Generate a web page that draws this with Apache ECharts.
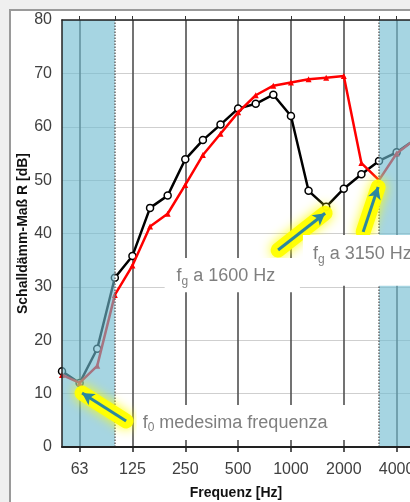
<!DOCTYPE html>
<html><head><meta charset="utf-8">
<script src="https://cdn.jsdelivr.net/npm/echarts@6/dist/echarts.min.js"></script>
<style>html,body{margin:0;padding:0;background:#efefef}#c{width:410px;height:502px}</style>
</head><body><div id="c"></div>
<script>
// third-octave bands (index 0 = 50 Hz)
const bands = ['50','63','80','100','125','160','200','250','315','400','500','630','800','1000','1250','1600','2000','2500','3150','4000','5000'];
const measured  = [14.2, 12.0, 18.4, 31.7, 35.8, 44.8, 47.1, 53.9, 57.5, 60.4, 63.4, 64.3, 66.0, 62.0, 48.0, 45.0, 48.4, 51.1, 53.6, 55.2, 57.5];
const reference = [13.5, 12.0, 15.2, 28.5, 34.0, 41.3, 43.7, 49.1, 54.7, 58.7, 62.7, 65.9, 67.7, 68.3, 68.9, 69.2, 69.5, 53.2, 50.0, 55.0, 57.5];
const octaveTicks = [1, 4, 7, 10, 13, 16, 19];     // 63 ... 4000 Hz
const topTicks = [1, 3, 4, 7, 10, 13, 16, 18, 19];
const yTicks = [10, 20, 30, 40, 50, 60, 70, 80];
const xMax = 19.76;
const blueBands = [[0, 3], [18, xMax]];
const edgeLines = [3, 18];
// arrows: [tail, head] in (band index, dB)
const arrows = [
  [[3.64, 4.87], [1.14, 10.1]],
  [[12.27, 36.9], [14.94, 43.8]],
  [[17.1, 40.3], [17.95, 48.7]]
];
// annotation boxes: subscript, rest of text, box corners, text anchor (band index, dB)
const notes = [
  {sub: '0', rest: ' medesima frequenza', box: [[4.24, 7.87], [16.35, 1.31]], at: [4.58, 4.50]},
  {sub: 'g', rest: ' a 1600 Hz', box: [[5.83, 35.4], [13.51, 29.0]], at: [6.50, 32.0]},
  {sub: 'g', rest: ' a 3150 Hz', box: [[13.68, 39.7], [20.5, 30.2]], at: [14.25, 36.1]}
];

const FONT = '"Liberation Sans", Arial, sans-serif';
const chart = echarts.init(document.getElementById('c'));

const gridLines = yTicks.map(v => ({yAxis: v, lineStyle: {color: '#cfcfcf', width: 1, type: 'solid'}}))
  .concat(octaveTicks.map(v => ({xAxis: v, lineStyle: {color: '#505050', width: 1.6, type: 'solid'}})));

const option = {
  backgroundColor: '#efefef',
  animation: false,
  textStyle: {fontFamily: FONT},
  grid: {left: 62, top: 20, right: 0, bottom: 55, containLabel: false, outerBoundsMode: 'none'},
  xAxis: [{
    type: 'value', min: 0, max: xMax, position: 'bottom', z: 15,
    axisLine: {show: true, onZero: false, lineStyle: {color: '#222', width: 2}},
    axisTick: {show: true, customValues: octaveTicks, length: 5, lineStyle: {color: '#222', width: 1.5}},
    axisLabel: {customValues: octaveTicks, formatter: v => bands[Math.round(v)], fontSize: 16, color: '#404040', margin: 15, fontFamily: FONT, hideOverlap: false},
    splitLine: {show: false},
    name: 'Frequenz [Hz]', nameLocation: 'middle', nameGap: 39, nameMoveOverlap: false,
    nameTextStyle: {fontWeight: 'bold', fontSize: 14, color: '#111', fontFamily: FONT}
  }, {
    type: 'value', min: 0, max: xMax, position: 'top', z: 15,
    axisLine: {show: true, onZero: false, lineStyle: {color: '#222', width: 1.5}},
    axisTick: {show: true, customValues: topTicks, length: 4, lineStyle: {color: '#333', width: 1}},
    axisLabel: {show: false}, splitLine: {show: false}
  }],
  yAxis: {
    type: 'value', min: 0, max: 80, interval: 10, z: 15,
    axisLine: {show: true, lineStyle: {color: '#222', width: 1.5}},
    axisTick: {show: false},
    axisLabel: {fontSize: 16, color: '#404040', margin: 10, fontFamily: FONT},
    splitLine: {show: false},
    name: 'Schalldämm-Maß R [dB]', nameLocation: 'middle', nameGap: 32, nameRotate: 90, nameMoveOverlap: false,
    nameTextStyle: {fontWeight: 'bold', fontSize: 14, color: '#111', fontFamily: FONT}
  },
  series: [
    {
      type: 'line', data: [], z: 1, silent: true,
      markLine: {z: 1, silent: true, symbol: ['none', 'none'], label: {show: false}, animation: false, data: gridLines}
    },
    {
      name: 'measured', type: 'line', z: 3,
      data: measured.map((v, i) => [i, v]),
      lineStyle: {color: '#000', width: 2.5},
      symbol: 'circle', symbolSize: 7,
      itemStyle: {color: '#fff', borderColor: '#000', borderWidth: 1.5}
    },
    {
      name: 'reference', type: 'line', z: 4,
      data: reference.map((v, i) => [i, v]),
      lineStyle: {color: '#ff0000', width: 2.5},
      symbol: 'triangle', symbolSize: 6,
      itemStyle: {color: '#ff0000'}
    },
    {
      type: 'line', data: [], z: 10, silent: true,
      markArea: {z: 10, silent: true, itemStyle: {color: 'rgba(111,187,208,0.62)'},
        data: blueBands.map(b => [{xAxis: b[0]}, {xAxis: b[1]}])},
      markLine: {z: 11, silent: true, symbol: ['none', 'none'], label: {show: false},
        lineStyle: {color: '#666', width: 1.5, type: 'dotted'},
        data: edgeLines.map(v => ({xAxis: v}))}
    },
    {
      type: 'line', data: [], z: 20, silent: true,
      markLine: {z: 20, silent: true, symbol: ['none', 'none'], label: {show: false},
        lineStyle: {color: 'rgba(255,255,0,0.95)', width: 15, type: 'solid', cap: 'round', shadowBlur: 12, shadowColor: '#ffff00'},
        data: arrows.map(a => [{coord: a[0]}, {coord: a[1]}])}
    },
    {
      type: 'line', data: [], z: 21, silent: true,
      markLine: {z: 21, silent: true, symbol: ['none', 'arrow'], symbolSize: [10, 12], label: {show: false},
        lineStyle: {color: '#2b87a0', width: 3, type: 'solid'},
        data: arrows.map(a => [{coord: a[0]}, {coord: a[1]}])}
    }
  ]
};
chart.setOption(option);

function px(p) { return chart.convertToPixel({gridIndex: 0}, p); }
const graphics = [{
  type: 'rect', z: -100, silent: true,
  shape: {x: 10, y: 10, width: 430, height: 520},
  style: {fill: '#fff', stroke: '#9a9a9a', lineWidth: 2}
}];
notes.forEach(n => {
  const a = px(n.box[0]), b = px(n.box[1]), t = px(n.at);
  graphics.push({
    type: 'rect', z: 100, silent: true,
    shape: {x: a[0], y: a[1], width: b[0] - a[0], height: b[1] - a[1]},
    style: {fill: '#fff'}
  });
  graphics.push({
    type: 'text', z: 101, silent: true, x: t[0], y: t[1],
    style: {
      text: '{m|f}{s|' + n.sub + '}{m|' + n.rest + '}',
      verticalAlign: 'middle', align: 'left',
      rich: {
        m: {fontSize: 18, lineHeight: 22, fontFamily: FONT, fill: '#7f7f7f', color: '#7f7f7f'},
        s: {fontSize: 12, lineHeight: 12, verticalAlign: 'bottom', fontFamily: FONT, fill: '#7f7f7f', color: '#7f7f7f'}
      }
    }
  });
});
chart.setOption({graphic: graphics});
</script>
</body></html>
